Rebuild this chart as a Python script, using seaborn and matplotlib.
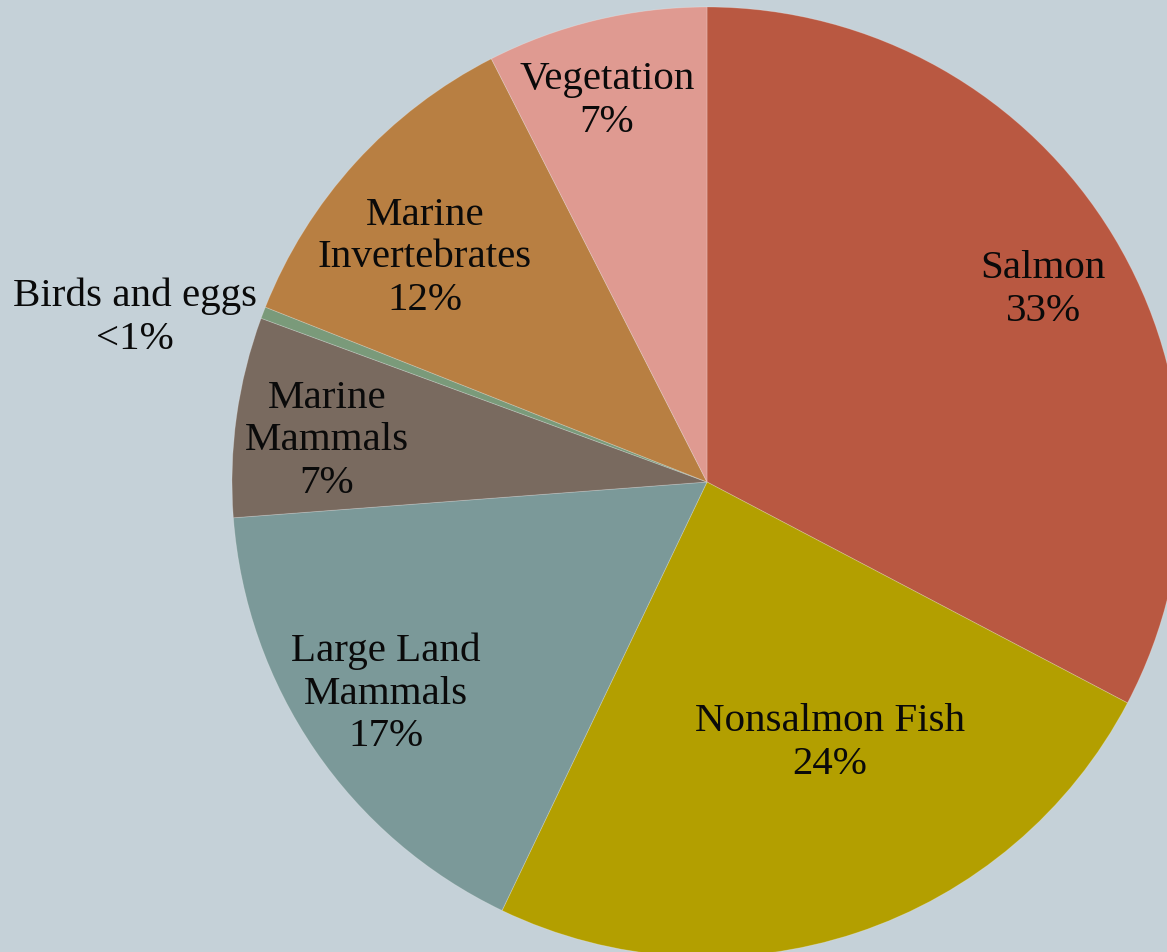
import numpy as np
import matplotlib.pyplot as plt
import seaborn as sns

# diet shares (clockwise from top)
categories = ["Salmon", "Nonsalmon Fish", "Large Land\nMammals", "Marine\nMammals",
              "Birds and eggs", "Marine\nInvertebrates", "Vegetation"]
shares = [32.7, 24.4, 16.7, 6.8, 0.4, 11.5, 7.5]
pct_labels = ["33%", "24%", "17%", "7%", "<1%", "12%", "7%"]

colors = ["#b95841", "#b39f00", "#7b9999", "#796a5f", "#7a9a7a", "#b87f42", "#df9a91"]
bg = "#c5d1d8"

# label centres in pixel space (x right, y down)
label_pos = [(1043, 290), (830, 743), (386, 694), (327, 441),
             (135, 318), (425, 258), (607, 101)]

sns.set_theme(style="white")
plt.rcParams["font.family"] = ["Liberation Serif", "DejaVu Serif"]

W, H = 1167, 953
fig = plt.figure(figsize=(W / 100, H / 100), dpi=100, facecolor=bg)
ax = fig.add_axes([0, 0, 1, 1])
ax.set_facecolor(bg)

ax.pie(shares, colors=colors, startangle=90, counterclock=False,
       center=(707, -483), radius=475,
       wedgeprops=dict(linewidth=0.6, edgecolor=(1, 1, 1, 0.25)))

for name, pct, (x, y) in zip(categories, pct_labels, label_pos):
    ax.text(x, -y, f"{name}\n{pct}", ha="center", va="center",
            fontsize=29.5, color="#0a0a0a", linespacing=1.2)

ax.set_xlim(0, W)
ax.set_ylim(-H, 0)
ax.set_aspect("equal")
ax.axis("off")

fig.savefig("out.png", dpi=100, facecolor=bg)
plt.close()
